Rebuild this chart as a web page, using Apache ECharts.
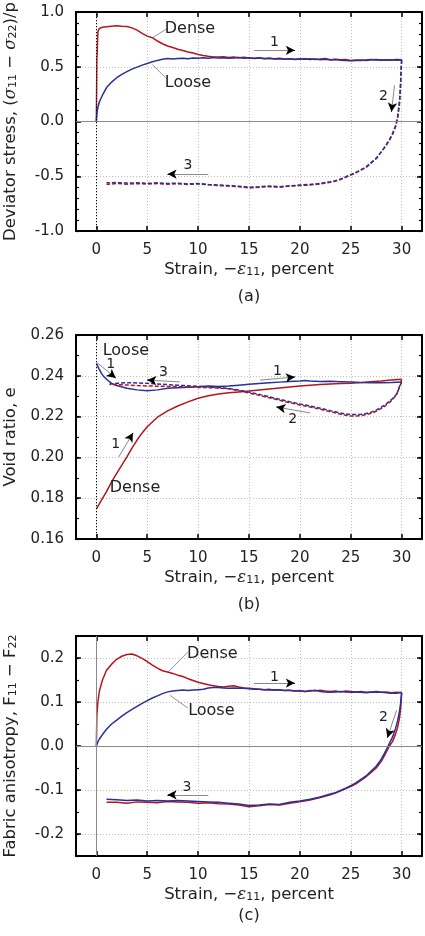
<!DOCTYPE html>
<html>
<head>
<meta charset="utf-8">
<script src="https://cdn.jsdelivr.net/npm/echarts@6/dist/echarts.min.js"></script>
<style>html,body{margin:0;background:#fff}#main{width:425px;height:936px}</style>
</head>
<body>
<div id="main"></div>
<script>
// strain grids (percent)
var loadX = [0, 0.05, 0.15, 0.3, 0.6, 1, 1.5, 2, 2.5, 3, 3.5, 4, 4.5, 5, 5.5, 6, 6.5, 7, 7.5, 8, 8.5, 9, 9.5, 10,
  10.5, 11, 11.5, 12, 12.5, 13, 13.5, 14, 14.5, 15, 15.5, 16, 16.5, 17, 17.5, 18, 18.5, 19, 19.5, 20,
  20.5, 21, 21.5, 22, 22.5, 23, 23.5, 24, 24.5, 25, 25.5, 26, 26.5, 27, 27.5, 28, 28.5, 29, 29.5, 30];
var unloadX = [30, 29.95, 29.9, 29.8, 29.6, 29.4, 29.1, 28.8, 28.4, 28, 27.5, 27, 26.5, 26, 25.5, 25, 24.5, 24, 23.5, 23,
  22, 21, 20, 19, 18, 17, 16, 15, 14, 13, 12, 11, 10, 9, 8, 7, 6, 5, 4, 3, 2, 1];

// (a) deviator stress
var stressDenseLoad = [0, 0.55, 0.82, 0.85, 0.86, 0.865, 0.87, 0.875, 0.87, 0.868, 0.855, 0.835, 0.805, 0.78,
  0.765, 0.735, 0.71, 0.69, 0.675, 0.66, 0.648, 0.635, 0.625, 0.612,
  0.603, 0.596, 0.59, 0.588, 0.592, 0.585, 0.59, 0.583, 0.586, 0.58,
  0.578, 0.583, 0.575, 0.578, 0.572, 0.577, 0.57, 0.574, 0.569, 0.573,
  0.568, 0.572, 0.566, 0.57, 0.575, 0.565, 0.569, 0.563, 0.566, 0.558,
  0.56, 0.556, 0.562, 0.566, 0.561, 0.565, 0.56, 0.563, 0.559, 0.562];
var stressLooseLoad = [0, 0.07, 0.13, 0.18, 0.24, 0.31, 0.36, 0.40, 0.43, 0.455, 0.478, 0.497, 0.515, 0.53,
  0.545, 0.558, 0.568, 0.575, 0.571, 0.576, 0.578, 0.574, 0.579, 0.577,
  0.583, 0.578, 0.584, 0.579, 0.583, 0.577, 0.58, 0.584, 0.578, 0.582,
  0.576, 0.579, 0.573, 0.577, 0.571, 0.574, 0.569, 0.573, 0.567, 0.57,
  0.574, 0.566, 0.57, 0.565, 0.568, 0.562, 0.566, 0.56, 0.557, 0.555,
  0.559, 0.562, 0.558, 0.563, 0.567, 0.56, 0.565, 0.561, 0.566, 0.565];
var stressDenseUnload = [0.562, 0.46, 0.33, 0.17, 0.02, -0.05, -0.12, -0.17, -0.23, -0.28,
  -0.34, -0.38, -0.42, -0.44, -0.47, -0.49, -0.51, -0.525, -0.545, -0.555,
  -0.57, -0.58, -0.585, -0.59, -0.60, -0.595, -0.60, -0.607, -0.595, -0.59,
  -0.585, -0.578, -0.57, -0.575, -0.568, -0.572, -0.566, -0.572, -0.567, -0.572,
  -0.566, -0.575];
var stressLooseUnload = [0.565, 0.48, 0.36, 0.2, 0.04, -0.04, -0.11, -0.165, -0.225, -0.275,
  -0.335, -0.375, -0.415, -0.445, -0.465, -0.485, -0.505, -0.53, -0.54, -0.55,
  -0.565, -0.575, -0.58, -0.588, -0.595, -0.59, -0.596, -0.6, -0.592, -0.585,
  -0.58, -0.575, -0.566, -0.57, -0.563, -0.566, -0.56, -0.565, -0.56, -0.562,
  -0.558, -0.56];

// (b) void ratio
var voidDenseX = [0, 0.5, 1, 1.5, 2, 2.5, 3, 3.5, 4, 4.5, 5, 6, 7, 8, 9, 10, 11, 12, 13, 14, 15, 16, 17, 18, 19, 20,
  21, 22, 23, 24, 25, 26, 27, 28, 29, 30];
var voidDenseLoad = [0.1746, 0.179, 0.1832, 0.188, 0.1922, 0.1962, 0.2003, 0.2045, 0.2085, 0.212,
  0.215, 0.2197, 0.2228, 0.2252, 0.2272, 0.229, 0.2302, 0.2311, 0.2317, 0.2321,
  0.2325, 0.233, 0.2335, 0.234, 0.2345, 0.235, 0.2354, 0.2357, 0.236, 0.2362,
  0.2364, 0.2367, 0.2371, 0.2375, 0.238, 0.2383];
var voidLooseX = [0, 0.25, 0.5, 0.75, 1, 1.5, 2, 3, 4, 5, 6, 7, 8, 9, 10, 11, 12, 13, 14, 15, 16, 17, 18, 19, 20, 20.5,
  21, 22, 23, 24, 25, 26, 27, 28, 29, 30];
var voidLooseLoad = [0.2461, 0.2435, 0.2412, 0.2395, 0.2383, 0.2363, 0.2352, 0.2339, 0.2331, 0.2327,
  0.2331, 0.2339, 0.2342, 0.2344, 0.2346, 0.235, 0.2348, 0.235, 0.2354, 0.2358,
  0.2362, 0.2366, 0.2369, 0.2372, 0.2375, 0.2377, 0.2374, 0.2372, 0.2373, 0.2371,
  0.2369, 0.2367, 0.2366, 0.2366, 0.2367, 0.237];
var voidUnloadX = [30, 29.8, 29.5, 29, 28.5, 28, 27.5, 27, 26.5, 26, 25.5, 25, 24.5, 24, 23, 22, 21, 20, 19, 18,
  17, 16, 15, 14, 13, 12, 11, 10, 9, 8, 7, 6, 5, 4, 3, 2, 1.3];
var voidDenseUnload = [0.2383, 0.235, 0.2306, 0.2278, 0.2257, 0.224, 0.2226, 0.2216, 0.221, 0.2205,
  0.2203, 0.2203, 0.2207, 0.2212, 0.2224, 0.2236, 0.2247, 0.2257, 0.2268, 0.228,
  0.2292, 0.2304, 0.2316, 0.2327, 0.2336, 0.234, 0.2342, 0.2343, 0.2345, 0.2347,
  0.2348, 0.2349, 0.235, 0.2352, 0.2355, 0.2357, 0.2357];
var voidLooseUnload = [0.237, 0.2345, 0.231, 0.2283, 0.2263, 0.2246, 0.2232, 0.2222, 0.2215, 0.2211,
  0.221, 0.221, 0.2213, 0.2218, 0.2229, 0.2241, 0.2252, 0.2262, 0.2273, 0.2285,
  0.2297, 0.2309, 0.232, 0.233, 0.2338, 0.2343, 0.2346, 0.2348, 0.2351, 0.2354,
  0.2357, 0.236, 0.2363, 0.2365, 0.2366, 0.2363, 0.236];

// (c) fabric anisotropy
var fabricDenseLoad = [0, 0.07, 0.10, 0.125, 0.15, 0.172, 0.186, 0.197, 0.204, 0.208, 0.209, 0.205, 0.199, 0.192,
  0.184, 0.177, 0.171, 0.168, 0.165, 0.161, 0.158, 0.153, 0.149, 0.145,
  0.142, 0.139, 0.137, 0.135, 0.134, 0.136, 0.137, 0.134, 0.132, 0.131,
  0.13, 0.129, 0.128, 0.129, 0.127, 0.128, 0.126, 0.127, 0.125, 0.126,
  0.124, 0.126, 0.125, 0.127, 0.125, 0.124, 0.125, 0.123, 0.125, 0.124,
  0.123, 0.124, 0.122, 0.123, 0.124, 0.122, 0.123, 0.121, 0.122, 0.121];
var fabricLooseLoad = [0, 0.004, 0.009, 0.016, 0.026, 0.038, 0.05, 0.059, 0.068, 0.076, 0.083, 0.09, 0.097, 0.103,
  0.109, 0.114, 0.119, 0.123, 0.125, 0.126, 0.127, 0.126, 0.127, 0.128,
  0.129, 0.132, 0.133, 0.133, 0.132, 0.131, 0.132, 0.131, 0.131, 0.13,
  0.129, 0.129, 0.128, 0.127, 0.128, 0.127, 0.126, 0.126, 0.125, 0.125,
  0.124, 0.125, 0.127, 0.124, 0.123, 0.122, 0.123, 0.124, 0.123, 0.122,
  0.123, 0.122, 0.121, 0.122, 0.123, 0.122, 0.121, 0.12, 0.12, 0.122];
var fabricDenseUnload = [0.121, 0.1, 0.085, 0.065, 0.042, 0.027, 0.01, 0.0, -0.018, -0.035,
  -0.05, -0.06, -0.07, -0.078, -0.086, -0.092, -0.097, -0.102, -0.107, -0.111,
  -0.117, -0.123, -0.127, -0.13, -0.134, -0.133, -0.136, -0.138, -0.134, -0.132,
  -0.131, -0.129, -0.13, -0.128, -0.127, -0.126, -0.129, -0.128, -0.127, -0.13,
  -0.128, -0.128];
var fabricLooseUnload = [0.121, 0.11, 0.098, 0.08, 0.057, 0.04, 0.02, 0.006, -0.013, -0.03,
  -0.046, -0.057, -0.068, -0.076, -0.084, -0.09, -0.096, -0.101, -0.106, -0.109,
  -0.116, -0.121, -0.125, -0.128, -0.133, -0.132, -0.134, -0.135, -0.132, -0.13,
  -0.128, -0.127, -0.126, -0.125, -0.124, -0.125, -0.124, -0.125, -0.123, -0.124,
  -0.122, -0.121];

// tick labels
var strainTicks = [0, 5, 10, 15, 20, 25, 30];
var stressTicks = [-1, -0.5, 0, 0.5, 1];
var voidTicks = [0.16, 0.18, 0.2, 0.22, 0.24, 0.26];
var fabricTicks = [-0.2, -0.1, 0, 0.1, 0.2];

var RED = '#b3161c';
var BLUE = '#28309a';
var FONT = 'DejaVu Sans';

var rich = {
  r: {fontSize: 16.5, fontFamily: FONT, color: '#222'},
  g: {fontSize: 16.5, fontFamily: 'DejaVu Serif', fontStyle: 'italic', color: '#222'},
  s: {fontSize: 11, fontFamily: FONT, color: '#222', verticalAlign: 'bottom', lineHeight: 11}
};

var grids = [
  {left: 76, right: 3, top: 12, height: 219, outerBoundsMode: 'none'},
  {left: 76, right: 3, top: 335, height: 204, outerBoundsMode: 'none'},
  {left: 76, right: 3, top: 636, height: 220, outerBoundsMode: 'none'}
];

function zip(xs, ys) {
  return xs.map(function (x, i) { return [x, ys[i]]; });
}

var frame = {show: true, onZero: false, lineStyle: {color: '#000', width: 2}};
var dotted = {show: true, lineStyle: {color: '#bdbdbd', type: [1, 2], width: 1}};

var xAxes = [];
var yAxes = [];
function addAxes(g, ticks, step, min, max, digits, name) {
  xAxes.push({
    type: 'value', gridIndex: g, min: -2, max: 32, position: 'bottom',
    axisLine: frame,
    axisTick: {inside: true, length: 5, customValues: strainTicks, lineStyle: {color: '#000', width: 1.5}},
    axisLabel: {customValues: strainTicks, margin: 12, fontSize: 15, fontFamily: FONT, color: '#222'},
    splitLine: dotted,
    name: '{r|Strain, −}{g|ε}{s|11}{r|, percent}', nameLocation: 'middle', nameGap: 30,
    nameTextStyle: {rich: rich}
  }, {
    type: 'value', gridIndex: g, min: -2, max: 32, position: 'top',
    axisLine: frame,
    axisTick: {inside: true, length: 5, customValues: strainTicks, lineStyle: {color: '#000', width: 1.5}},
    axisLabel: {show: false}, splitLine: {show: false}
  });
  var base = {type: 'value', gridIndex: g, min: min, max: max, interval: step};
  var minorTick = {show: true, inside: true, length: 3, lineStyle: {color: '#000', width: 1.2}};
  yAxes.push(Object.assign({}, base, {
    position: 'left', axisLine: frame,
    axisTick: {inside: true, length: 5, customValues: ticks, lineStyle: {color: '#000', width: 1.5}},
    axisLabel: {customValues: ticks, margin: 12, fontSize: 15, fontFamily: FONT, color: '#222',
      formatter: function (v) { return v.toFixed(digits); }},
    splitLine: dotted,
    name: name, nameLocation: 'middle', nameGap: 57, nameTextStyle: {rich: rich}
  }), Object.assign({}, base, {
    position: 'right', axisLine: frame,
    axisTick: {inside: true, length: 5, customValues: ticks, lineStyle: {color: '#000', width: 1.5}},
    axisLabel: {show: false}, splitLine: {show: false}
  }), Object.assign({}, base, {
    position: 'left', axisLine: {show: false, onZero: false}, axisTick: minorTick,
    axisLabel: {show: false}, splitLine: {show: false}
  }), Object.assign({}, base, {
    position: 'right', axisLine: {show: false, onZero: false}, axisTick: minorTick,
    axisLabel: {show: false}, splitLine: {show: false}
  }));
}
addAxes(0, stressTicks, 0.1, -1, 1, 1, '{r|Deviator stress, (}{g|σ}{s|11}{r| − }{g|σ}{s|22}{r|)/p}');
addAxes(1, voidTicks, 0.01, 0.16, 0.26, 2, '{r|Void ratio, e}');
addAxes(2, fabricTicks, 0.05, -0.25, 0.25, 1, '{r|Fabric anisotropy, F}{s|11}{r| − F}{s|22}');

// annotations in data coordinates: texts [label, x, y, size], leaders [x1,y1,x2,y2], arrows [x1,y1,x2,y2]
var notes = [
  {
    texts: [['Dense', 9.2, 0.845, 16], ['Loose', 9.0, 0.35, 16], ['1', 17.5, 0.72, 14], ['2', 28.2, 0.23, 14], ['3', 9.0, -0.40, 14]],
    leaders: [[5.6, 0.77, 7.0, 0.85], [5.5, 0.52, 6.8, 0.40]],
    arrows: [[15.5, 0.65, 19.5, 0.65], [29.3, 0.33, 29.0, 0.09], [11.0, -0.48, 7.0, -0.48]],
    vline: {color: '#000', type: [1, 2], width: 1}, hline: true
  },
  {
    texts: [['Loose', 2.9, 0.2522, 16], ['1', 1.4, 0.2458, 14], ['3', 6.6, 0.2419, 14], ['1', 17.8, 0.2424, 14],
      ['2', 19.3, 0.2188, 14], ['1', 1.9, 0.2066, 14], ['Dense', 3.8, 0.185, 16]],
    leaders: [],
    arrows: [[0.1, 0.2463, 1.9, 0.2389], [8.2, 0.237, 5.0, 0.2379], [16.1, 0.2379, 19.5, 0.2394],
      [21.0, 0.2218, 17.7, 0.2247], [2.2, 0.2002, 3.6, 0.212]],
    vline: {color: '#000', type: [1, 2], width: 1}, hline: false
  },
  {
    texts: [['Dense', 11.4, 0.209, 16], ['Loose', 11.3, 0.079, 16], ['1', 17.5, 0.157, 14], ['2', 28.2, 0.065, 14], ['3', 8.9, -0.093, 14]],
    leaders: [[7.06, 0.168, 9.0, 0.214], [7.25, 0.115, 9.0, 0.086]],
    arrows: [[15.5, 0.143, 19.5, 0.143], [29.5, 0.081, 28.6, 0.019], [11.0, -0.111, 7.0, -0.111]],
    vline: {color: '#8a8a8a', type: 'solid', width: 1}, hline: true
  }
];

function markups(n) {
  var lines = [];
  lines.push({xAxis: 0, lineStyle: n.vline});
  if (n.hline) lines.push({yAxis: 0, lineStyle: {color: '#8a8a8a', type: 'solid', width: 1.2}});
  n.leaders.forEach(function (l) {
    lines.push([{coord: [l[0], l[1]], lineStyle: {color: '#777', width: 0.8, type: 'solid'}}, {coord: [l[2], l[3]]}]);
  });
  n.arrows.forEach(function (a) {
    lines.push([{coord: [a[0], a[1]], lineStyle: {color: '#8a8a8a', width: 1, type: 'solid'}}, {coord: [a[2], a[3]]}]);
    var hx = a[2] - (a[2] - a[0]) * 0.12, hy = a[3] - (a[3] - a[1]) * 0.12;
    lines.push([{coord: [hx, hy], lineStyle: {color: '#000', width: 1, type: 'solid'}}, {coord: [a[2], a[3]], symbol: 'arrow'}]);
  });
  return {
    markLine: {
      silent: true, symbol: ['none', 'none'], symbolSize: [7, 9], label: {show: false},
      animation: false, data: lines
    },
    markPoint: {
      silent: true, symbol: 'circle', symbolSize: 1, itemStyle: {color: 'rgba(0,0,0,0)'},
      animation: false,
      data: n.texts.map(function (t) {
        return {coord: [t[1], t[2]], name: t[0],
          label: {show: true, position: 'inside', formatter: t[0], fontSize: t[3], fontFamily: FONT, color: '#222'}};
      })
    }
  };
}

function line(g, data, color, dashed, extra) {
  return Object.assign({
    type: 'line', xAxisIndex: g * 2, yAxisIndex: g * 4, data: data, showSymbol: false,
    animation: false, clip: true,
    lineStyle: {color: color, width: 1.5, type: dashed ? [4, 2] : 'solid'}
  }, extra || {});
}

var series = [
  line(0, zip(loadX, stressDenseLoad), RED, false, markups(notes[0])),
  line(0, zip(loadX, stressLooseLoad), BLUE, false),
  line(0, zip(unloadX, stressDenseUnload), RED, true),
  line(0, zip(unloadX, stressLooseUnload), BLUE, true),
  line(1, zip(voidDenseX, voidDenseLoad), RED, false, markups(notes[1])),
  line(1, zip(voidLooseX, voidLooseLoad), BLUE, false),
  line(1, zip(voidUnloadX, voidDenseUnload), RED, true),
  line(1, zip(voidUnloadX, voidLooseUnload), BLUE, true),
  line(2, zip(loadX, fabricDenseLoad), RED, false, markups(notes[2])),
  line(2, zip(loadX, fabricLooseLoad), BLUE, false),
  line(2, zip(unloadX, fabricDenseUnload), RED, false),
  line(2, zip(unloadX, fabricLooseUnload), BLUE, false)
];

var panelLabels = [['(a)', 297], ['(b)', 605], ['(c)', 916]];

var myChart = echarts.init(document.getElementById('main'));
var option = {
  backgroundColor: '#fff',
  animation: false,
  grid: grids,
  xAxis: xAxes,
  yAxis: yAxes,
  series: series,
  graphic: panelLabels.map(function (p) {
    return {type: 'text', x: 249, y: p[1],
      style: {text: p[0], font: '16px "DejaVu Sans"', fill: '#222', textAlign: 'center', textVerticalAlign: 'middle'}};
  })
};
option && myChart.setOption(option);
</script>
</body>
</html>
